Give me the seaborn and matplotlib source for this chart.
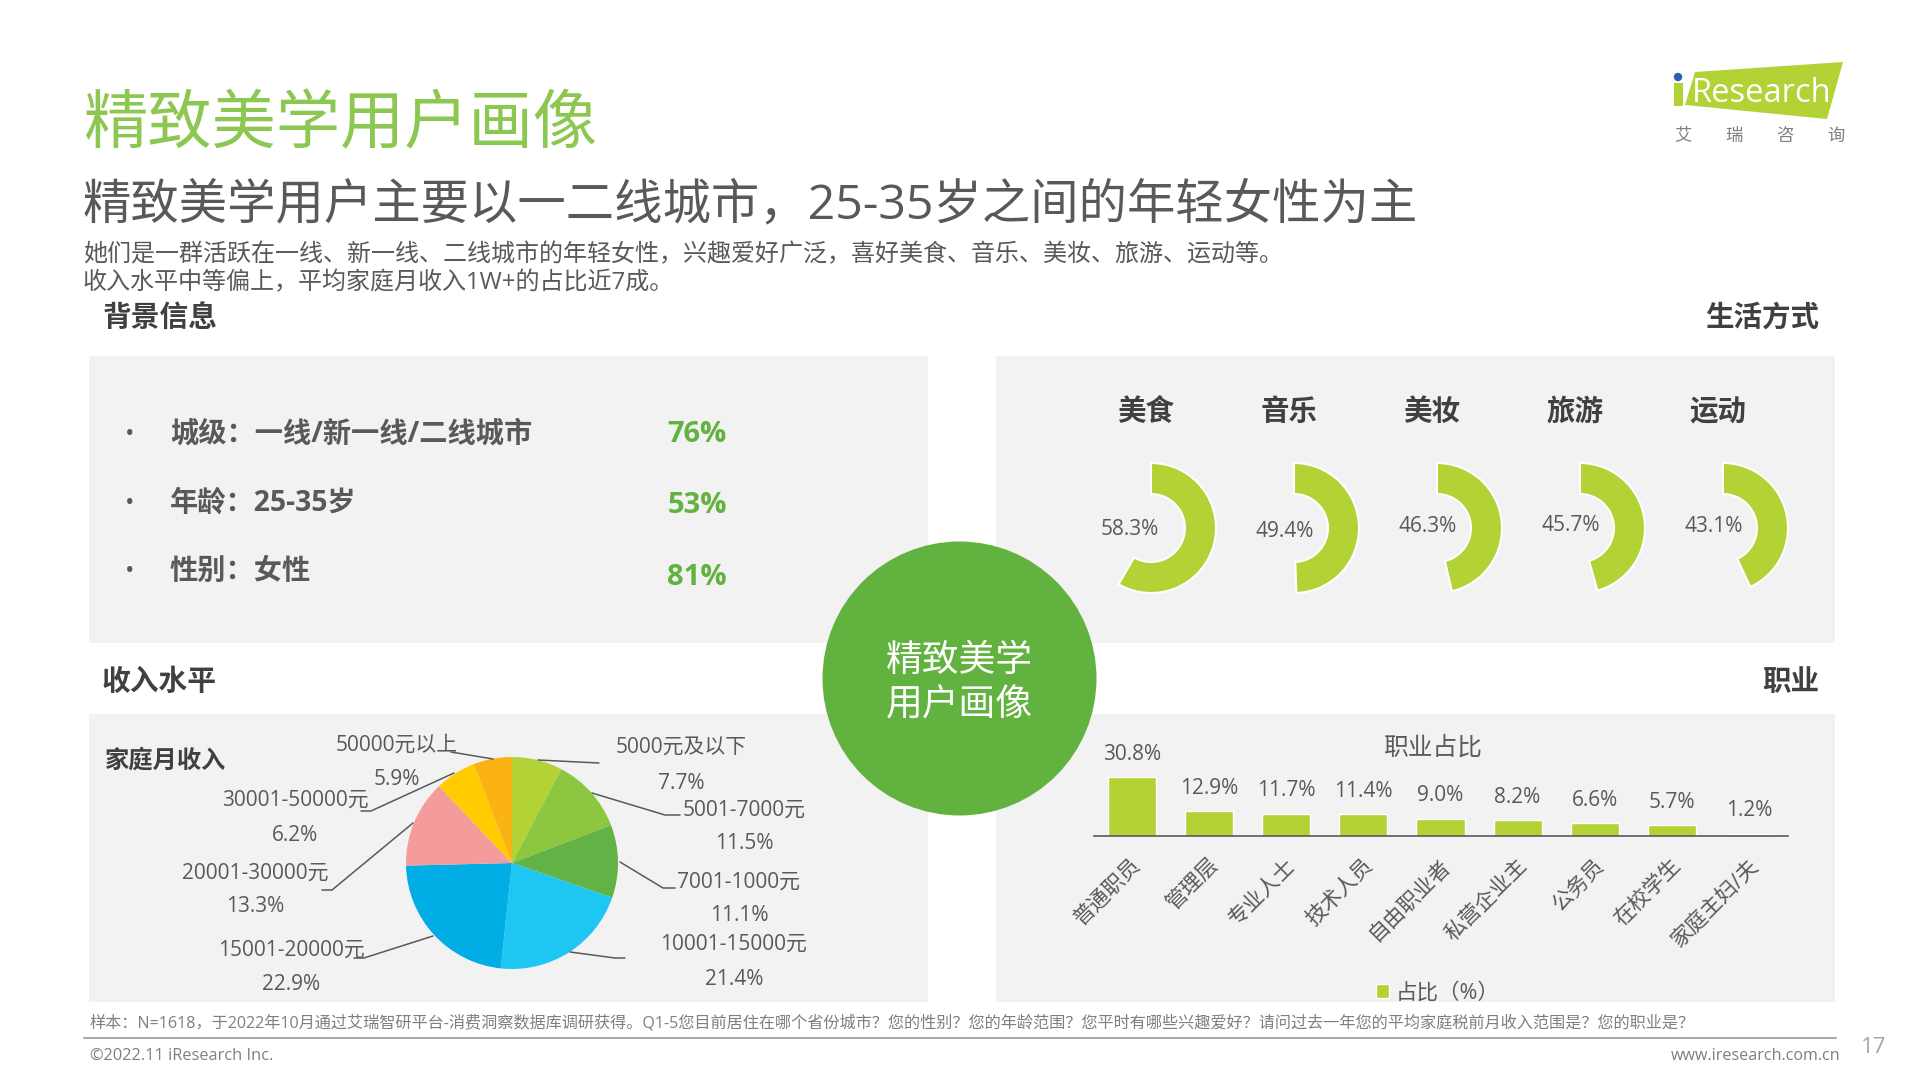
import matplotlib
matplotlib.use("Agg")
import matplotlib.pyplot as plt
from matplotlib.patches import Rectangle, Circle, Polygon
from matplotlib.transforms import ScaledTranslation
import pandas as pd
import seaborn as sns

# ---- data ----
income_labels = ["5000元及以下", "5001-7000元", "7001-1000元", "10001-15000元",
                 "15001-20000元", "20001-30000元", "30001-50000元", "50000元以上"]
income_values = [7.7, 11.5, 11.1, 21.4, 22.9, 13.3, 6.2, 5.9]
hobby_labels = ["美食", "音乐", "美妆", "旅游", "运动"]
hobby_values = [58.3, 49.4, 46.3, 45.7, 43.1]
job_labels = ["普通职员", "管理层", "专业人士", "技术人员", "自由职业者",
              "私营企业主", "公务员", "在校学生", "家庭主妇/夫"]
job_values = [30.8, 12.9, 11.7, 11.4, 9.0, 8.2, 6.6, 5.7, 1.2]
background_labels = ["城级：一线/新一线/二线城市", "年龄：25-35岁", "性别：女性"]
background_values = ["76%", "53%", "81%"]

# ---- layout and style ----
W, H = 1920, 1080
LIME = "#B2D235"
GREEN = "#62B23F"
TITLE_GREEN = "#8CC751"
PANEL = "#F2F2F2"
GRAY = "#595959"
DARK = "#404040"
pie_colors = ["#B2D235", "#8DC63F", "#62B246", "#1EC6F2", "#00ADE5", "#F49B9B", "#FFCC00", "#FBB314"]

sns.set_theme(style="white")
FONTS = ["Open Sans", "Noto Sans CJK SC", "DejaVu Sans"]
plt.rcParams["font.family"] = FONTS

fig = plt.figure(figsize=(W / 100, H / 100), dpi=100, facecolor="white")


def px_axes(l, t, r, b, z=1):
    ax = fig.add_axes([l / W, 1 - b / H, (r - l) / W, (b - t) / H], zorder=z)
    ax.patch.set_alpha(0)
    return ax


bg = px_axes(0, 0, W, H, 0)
bg.set_xlim(0, W)
bg.set_ylim(H, 0)
bg.axis("off")
top = px_axes(0, 0, W, H, 5)
top.set_xlim(0, W)
top.set_ylim(H, 0)
top.axis("off")


def T(x, y, s, size=15, color=GRAY, weight="normal", ha="center", **kw):
    top.text(x, y + 2.5, s, fontsize=size, color=color, fontweight=weight, ha=ha, va="center", **kw)


# panels and central disc
for (x0, y0, x1, y1) in [(89, 356, 928, 643), (996, 356, 1835, 643), (89, 714, 928, 1002), (996, 714, 1835, 1002)]:
    bg.add_patch(Rectangle((x0, y0), x1 - x0, y1 - y0, fc=PANEL, ec="none"))
top.add_patch(Circle((959.5, 678.5), 137, fc=GREEN, ec="none", zorder=1))
T(959, 659, "精致美学", 26.5, "white")
T(959, 704, "用户画像", 26.5, "white")

# heading block
T(83, 124, "精致美学用户画像", 46.3, TITLE_GREEN, ha="left")
T(83, 203.5, "精致美学用户主要以一二线城市，25-35岁之间的年轻女性为主", 34.8, GRAY, ha="left")
T(83, 253, "她们是一群活跃在一线、新一线、二线城市的年轻女性，兴趣爱好广泛，喜好美食、音乐、美妆、旅游、运动等。", 17.3, GRAY, ha="left")
T(83, 281, "收入水平中等偏上，平均家庭月收入1W+的占比近7成。", 17.3, GRAY, ha="left")

# section heads
T(102, 316, "背景信息", 20.7, DARK, "bold", ha="left")
T(1819, 316, "生活方式", 20.5, DARK, "bold", ha="right")
T(102, 680, "收入水平", 20.7, DARK, "bold", ha="left")
T(1819, 680, "职业", 20.5, DARK, "bold", ha="right")

# background block
for lab, val, y, yv in zip(background_labels, background_values, [432, 501, 569], [432, 503, 575]):
    T(130, y, "•", 18, GRAY)
    T(170, y, lab, 20.3, GRAY, "bold", ha="left")
    T(697, yv, val, 21, GREEN, "bold")

# lifestyle donuts
donut_x = [1151, 1294, 1437, 1580, 1723]
name_x = [1146, 1289, 1432, 1575, 1718]
lab_x = [1130, 1285, 1428, 1571, 1714]
lab_y = [527, 529, 524, 523, 524]
for i, (name, v) in enumerate(zip(hobby_labels, hobby_values)):
    ax = px_axes(donut_x[i] - 65, 463, donut_x[i] + 65, 593, 2)
    wedges, _ = ax.pie([v, 100 - v], startangle=90, counterclock=False, radius=1,
                       colors=[LIME, PANEL],
                       wedgeprops=dict(width=0.477, edgecolor="white", linewidth=1.5, clip_on=False))
    wedges[1].set_visible(False)
    ax.set_xlim(-1, 1)
    ax.set_ylim(-1, 1)
    T(name_x[i], 410, name, 20.5, DARK, "bold")
    T(lab_x[i], lab_y[i], f"{v:.1f}%", 15, GRAY)

# income pie
pie_ax = px_axes(406, 757, 618, 969, 2)
pie_ax.pie(income_values, startangle=90, counterclock=False, colors=pie_colors, radius=1,
           wedgeprops=dict(linewidth=0, clip_on=False))
pie_ax.set_xlim(-1, 1)
pie_ax.set_ylim(-1, 1)
T(105, 759, "家庭月收入", 17.5, DARK, "bold", ha="left")
income_pos = [(681, 746, 781), (744, 808, 841), (739, 880, 913), (734, 942, 977),
              (291, 948, 982), (255, 871, 904), (295, 798, 833), (397, 743, 777)]
leaders = [[(538, 760), (599, 763)],
           [(592, 793), (665, 815), (680, 815)],
           [(620, 862), (663, 888), (675, 888)],
           [(570, 952), (615, 958), (625, 958)],
           [(433, 936), (364, 958), (354, 958)],
           [(413, 823), (332, 890), (322, 890)],
           [(454, 773), (371, 811), (361, 811)],
           [(451, 752), (493, 759)]]
for lab, v, (x, y1, y2), line in zip(income_labels, income_values, income_pos, leaders):
    T(x, y1, lab, 15)
    T(x, y2, f"{v:.1f}%", 15)
    top.plot([p[0] for p in line], [p[1] for p in line], color=GRAY, lw=1.1, zorder=0.5)

# occupation bars
bar_ax = px_axes(1093.5, 776, 1787.5, 836, 2)
df = pd.DataFrame({"职业": job_labels, "占比": job_values})
sns.barplot(data=df, x="职业", y="占比", color=LIME, saturation=1, width=0.625, ax=bar_ax, label="占比（%）")
bar_ax.set_xlim(-0.5, 8.5)
bar_ax.set_ylim(0, 31.3)
bar_ax.set_xlabel("")
bar_ax.set_ylabel("")
bar_ax.set_yticks([])
sns.despine(ax=bar_ax, left=True)
bar_ax.spines["bottom"].set_color("#595959")
bar_ax.spines["bottom"].set_linewidth(1.2)
bar_ax.tick_params(axis="x", length=0, pad=14)
bar_ax.set_xticks(range(len(job_labels)))
bar_ax.set_xticklabels(job_labels, rotation=45, ha="right", rotation_mode="anchor", fontsize=15.3, color=GRAY)
for lbl in bar_ax.get_xticklabels():
    lbl.set_transform(lbl.get_transform() + ScaledTranslation(-1 / 100, 0, fig.dpi_scale_trans))
for i, v in enumerate(job_values):
    bar_ax.annotate(f"{v:.1f}%", (i, v), xytext=(0, 16.5), textcoords="offset points",
                    ha="center", va="center", fontsize=15, color=GRAY, annotation_clip=False)
bar_ax.legend(loc="center", bbox_to_anchor=((1438 - 1094) / 694, (836 - 993) / 60), frameon=False,
              fontsize=15.5, labelcolor=GRAY, handlelength=0.6, handleheight=0.6, handletextpad=0.3,
              borderpad=0, borderaxespad=0)
T(1433, 746, "职业占比", 17.8)

# footer
T(90, 1021, "样本：N=1618，于2022年10月通过艾瑞智研平台-消费洞察数据库调研获得。Q1-5您目前居住在哪个省份城市？您的性别？您的年龄范围？您平时有哪些兴趣爱好？请问过去一年您的平均家庭税前月收入范围是？您的职业是？", 11.65, "#7F7F7F", ha="left")
top.plot([84, 1836], [1038, 1038], color="#A6A6A6", lw=1.4)
T(90, 1053, "©2022.11 iResearch Inc.", 11.8, "#7F7F7F", ha="left")
T(1840, 1053, "www.iresearch.com.cn", 11.6, "#7F7F7F", ha="right")
T(1874, 1045, "17", 16, "#A6A6A6")

# logo
top.add_patch(Polygon([(1695, 72), (1843, 62), (1827, 119), (1685, 105)], fc=LIME, ec="none"))
top.add_patch(Rectangle((1674, 83), 9, 23, fc=LIME, ec="none"))
top.add_patch(Circle((1678, 77), 4.2, fc="#2F5FAF", ec="none"))
T(1692, 91, "Research", 23.5, "white", ha="left")
for x, c in zip([1683, 1734, 1785, 1836], "艾瑞咨询"):
    T(x, 134, c, 12.5, "#7F7F7F")

fig.savefig("out.png", dpi=100)
